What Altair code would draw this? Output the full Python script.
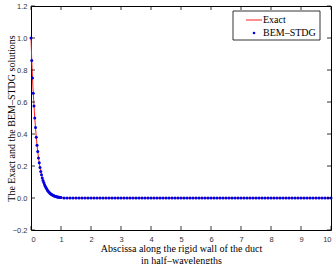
import altair as alt
import pandas as pd

# decaying part, step 0.025, then the flat tail, step 0.1
x_vals = [0.0, 0.025, 0.05, 0.075, 0.1, 0.125, 0.15, 0.175, 0.2, 0.225, 0.25, 0.275,
          0.3, 0.325, 0.35, 0.375, 0.4, 0.425, 0.45, 0.475, 0.5, 0.525, 0.55, 0.575,
          0.6, 0.625, 0.65, 0.675, 0.7, 0.725, 0.75, 0.775, 0.8, 0.825, 0.85, 0.875,
          0.9, 0.925, 0.95, 0.975, 1.0,
          1.1, 1.2, 1.3, 1.4, 1.5, 1.6, 1.7, 1.8, 1.9, 2.0,
          2.1, 2.2, 2.3, 2.4, 2.5, 2.6, 2.7, 2.8, 2.9, 3.0,
          3.1, 3.2, 3.3, 3.4, 3.5, 3.6, 3.7, 3.8, 3.9, 4.0,
          4.1, 4.2, 4.3, 4.4, 4.5, 4.6, 4.7, 4.8, 4.9, 5.0,
          5.1, 5.2, 5.3, 5.4, 5.5, 5.6, 5.7, 5.8, 5.9, 6.0,
          6.1, 6.2, 6.3, 6.4, 6.5, 6.6, 6.7, 6.8, 6.9, 7.0,
          7.1, 7.2, 7.3, 7.4, 7.5, 7.6, 7.7, 7.8, 7.9, 8.0,
          8.1, 8.2, 8.3, 8.4, 8.5, 8.6, 8.7, 8.8, 8.9, 9.0,
          9.1, 9.2, 9.3, 9.4, 9.5, 9.6, 9.7, 9.8, 9.9, 10.0]

y_decay = [1.0, 0.86, 0.75, 0.655, 0.575, 0.50, 0.44, 0.38, 0.33, 0.29, 0.25, 0.22,
           0.19, 0.165, 0.145, 0.125, 0.11, 0.097, 0.085, 0.074, 0.064, 0.056, 0.048, 0.042,
           0.036, 0.031, 0.027, 0.023, 0.02, 0.017, 0.015, 0.013, 0.011, 0.0095, 0.008, 0.007,
           0.006, 0.005, 0.004, 0.0035, 0.003]
y_tail = [0, 0, 0, 0, 0, 0, 0, 0, 0, 0,
          0, 0, 0, 0, 0, 0, 0, 0, 0, 0,
          0, 0, 0, 0, 0, 0, 0, 0, 0, 0,
          0, 0, 0, 0, 0, 0, 0, 0, 0, 0,
          0, 0, 0, 0, 0, 0, 0, 0, 0, 0,
          0, 0, 0, 0, 0, 0, 0, 0, 0, 0,
          0, 0, 0, 0, 0, 0, 0, 0, 0, 0,
          0, 0, 0, 0, 0, 0, 0, 0, 0, 0,
          0, 0, 0, 0, 0, 0, 0, 0, 0, 0]
y_exact = y_decay + y_tail
y_bem = y_decay + y_tail

x_ticks = [0, 1, 2, 3, 4, 5, 6, 7, 8, 9, 10]
y_ticks = [-0.2, 0, 0.2, 0.4, 0.6, 0.8, 1, 1.2]

x_title = ["Abscissa along the rigid wall of the duct", "in half\u2013wavelengths"]
y_title = "The Exact and the BEM\u2013STDG solutions"
legend_labels = ["Exact", "BEM\u2013STDG"]

W, H = 300, 224
df = pd.DataFrame({"x": x_vals, "exact": y_exact, "bem": y_bem})
xs = alt.Scale(domain=[0, 10], nice=False, zero=False)
ys = alt.Scale(domain=[-0.2, 1.2], nice=False, zero=False)

SERIF = "Liberation Serif"
SANS = "Liberation Sans"

x_axis = alt.Axis(values=x_ticks, title=x_title, labelPadding=5, titleY=13,
                  titleBaseline="top", titleLineHeight=12)
y_axis = alt.Axis(values=y_ticks, title=y_title, labelPadding=4, titleX=-20, titleY=H / 2,
                  titleAngle=-90, titleBaseline="middle", titleAlign="center")

line = alt.Chart(df).mark_line(color="#ff2020", strokeWidth=1).encode(
    x=alt.X("x:Q", scale=xs, axis=x_axis),
    y=alt.Y("exact:Q", scale=ys, axis=y_axis),
)
pts = alt.Chart(df).mark_circle(color="#0000e0", size=9, opacity=1).encode(
    x=alt.X("x:Q", scale=xs, axis=x_axis),
    y=alt.Y("bem:Q", scale=ys, axis=y_axis),
)

xt = pd.DataFrame({"t": x_ticks})
yt = pd.DataFrame({"t": y_ticks})
tick_style = dict(color="black", strokeWidth=0.8)
xb = alt.Chart(xt).mark_rule(**tick_style).encode(
    x=alt.X("t:Q", scale=xs, axis=x_axis), y=alt.value(H), y2=alt.value(H - 4))
xtop = alt.Chart(xt).mark_rule(**tick_style).encode(
    x=alt.X("t:Q", scale=xs, axis=x_axis), y=alt.value(0), y2=alt.value(4))
yl = alt.Chart(yt).mark_rule(**tick_style).encode(
    y=alt.Y("t:Q", scale=ys, axis=y_axis), x=alt.value(0), x2=alt.value(4))
yr = alt.Chart(yt).mark_rule(**tick_style).encode(
    y=alt.Y("t:Q", scale=ys, axis=y_axis), x=alt.value(W - 4), x2=alt.value(W))

one = pd.DataFrame({"a": [0]})
leg_box = alt.Chart(one).mark_rect(fill="white", stroke="black", strokeWidth=0.8).encode(
    x=alt.value(202), x2=alt.value(289), y=alt.value(5), y2=alt.value(34))
leg_line = alt.Chart(one).mark_rule(color="#ff2020", strokeWidth=1).encode(
    x=alt.value(215), x2=alt.value(231), y=alt.value(14))
leg_dot = alt.Chart(one).mark_circle(color="#0000e0", size=7, opacity=1).encode(
    x=alt.value(223), y=alt.value(27))
txt_style = dict(font=SERIF, fontSize=10, align="left", baseline="middle", color="black")
leg_t1 = alt.Chart(one).mark_text(text=legend_labels[0], **txt_style).encode(
    x=alt.value(232), y=alt.value(14))
leg_t2 = alt.Chart(one).mark_text(text=legend_labels[1], **txt_style).encode(
    x=alt.value(232), y=alt.value(27))

chart = alt.layer(line, pts, xb, xtop, yl, yr, leg_box, leg_line, leg_dot, leg_t1, leg_t2).properties(
    width=W, height=H,
    autosize=alt.AutoSizeParams(type="none"),
    padding={"left": 31, "top": 6, "right": 4, "bottom": 34},
    background="white",
).configure_view(
    stroke="black", strokeWidth=1
).configure_axis(
    tickSize=0, domain=False, grid=False,
    labelFont=SANS, labelFontSize=7.5, labelColor="#333333",
    titleFont=SERIF, titleFontSize=10, titleFontWeight="normal", titleColor="black",
)

chart.save("out.html", embed_options={"renderer": "svg", "actions": False})
